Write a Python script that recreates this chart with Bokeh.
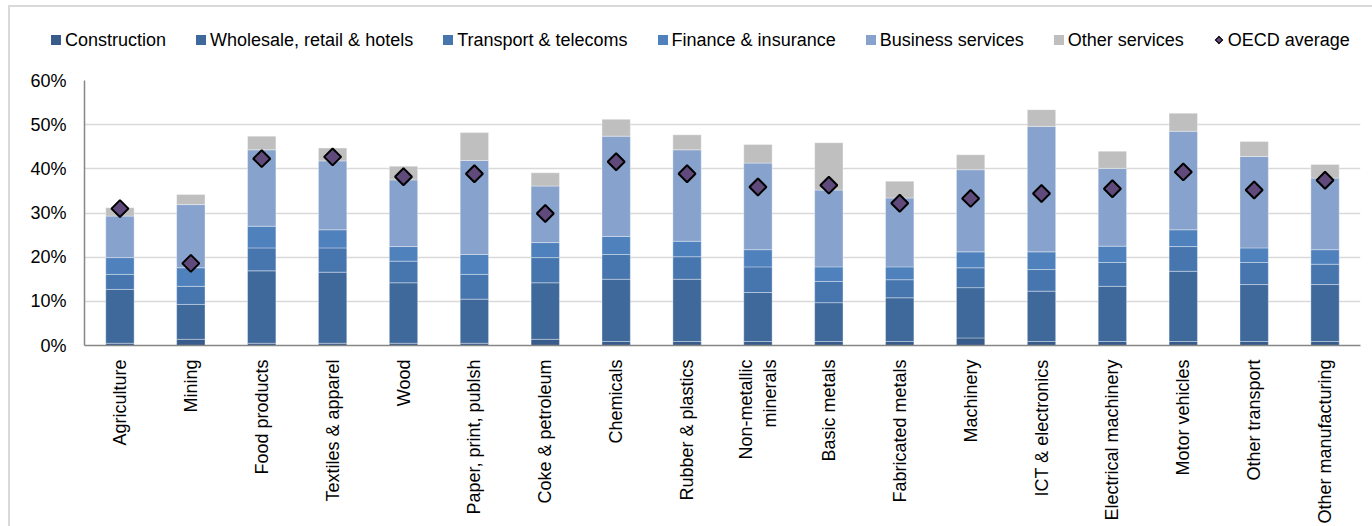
import numpy as np
from bokeh.plotting import figure
from bokeh.layouts import column
from bokeh.models import (ColumnDataSource, Range1d, FixedTicker, NumeralTickFormatter,
                          Div, InlineStyleSheet)
from bokeh.embed import file_html
from bokeh.resources import INLINE

categories = ["Agriculture", "Mining", "Food products", "Textiles & apparel", "Wood",
              "Paper, print, publsh", "Coke & petroleum", "Chemicals", "Rubber & plastics",
              "Non-metallic\nminerals", "Basic metals", "Fabricated metals", "Machinery",
              "ICT & electronics", "Electrical machinery", "Motor vehicles", "Other transport",
              "Other manufacturing"]

# shares in percent
construction = [0.5, 1.4, 0.5, 0.5, 0.5, 0.5, 1.4, 0.9, 0.9, 0.9, 0.9, 0.9, 1.7, 0.9, 0.9, 0.9, 0.9, 0.9]
wholesale    = [12.2, 7.9, 16.4, 16.1, 13.7, 10.0, 12.8, 14.1, 14.1, 11.1, 8.8, 9.9, 11.4, 11.4, 12.5, 15.9, 12.9, 12.9]
transport    = [3.4, 4.1, 5.2, 5.5, 4.9, 5.6, 5.7, 5.6, 5.1, 5.8, 4.8, 4.1, 4.5, 4.9, 5.4, 5.6, 5.0, 4.6]
finance      = [3.8, 4.2, 4.9, 4.1, 3.3, 4.5, 3.4, 4.1, 3.5, 3.9, 3.3, 2.9, 3.6, 4.0, 3.7, 3.8, 3.3, 3.3]
business     = [9.4, 14.3, 17.3, 15.6, 15.1, 21.3, 12.8, 22.7, 20.7, 19.6, 17.4, 15.6, 18.6, 28.4, 17.6, 22.3, 20.7, 16.2]
other        = [1.9, 2.3, 3.1, 2.9, 3.1, 6.3, 3.0, 3.8, 3.4, 4.2, 10.7, 3.8, 3.4, 3.8, 3.9, 4.1, 3.4, 3.1]
oecd_average = [31.0, 18.6, 42.3, 42.7, 38.2, 38.9, 29.9, 41.6, 38.9, 35.9, 36.3, 32.2, 33.3, 34.4, 35.5, 39.3, 35.2, 37.4]

series_names = ["Construction", "Wholesale, retail & hotels", "Transport & telecoms",
                "Finance & insurance", "Business services", "Other services"]
series_keys = ["construction", "wholesale", "transport", "finance", "business", "other"]
series_colors = ["#375b8a", "#3f699b", "#4776ae", "#4f81bd", "#87a2cc", "#bfbfbf"]
oecd_label = "OECD average"
oecd_color = "#604a7b"

x = list(range(len(categories)))
data = dict(x=x)
for k, vals in zip(series_keys, [construction, wholesale, transport, finance, business, other]):
    data[k] = [v / 100 for v in vals]
data["oecd"] = [v / 100 for v in oecd_average]
src = ColumnDataSource(data)

FONT = "Liberation Sans"

# ---------- main chart ----------
p = figure(width=1372, height=456, output_backend="svg", toolbar_location=None,
           x_range=Range1d(-0.5, len(categories) - 0.5), y_range=Range1d(0, 0.6),
           min_border_left=84, min_border_right=12, min_border_top=10, min_border_bottom=180)
p.outline_line_color = None
p.background_fill_color = "white"
p.border_fill_color = "white"

p.vbar_stack(series_keys, x="x", width=0.4, color=series_colors, source=src,
             line_color="white", line_alpha=0.35, line_width=1)
p.scatter(x="x", y="oecd", source=src, marker="square", angle=np.pi / 4, size=12,
          fill_color=oecd_color, line_color="black", line_width=2)

p.yaxis.ticker = FixedTicker(ticks=[0, 0.1, 0.2, 0.3, 0.4, 0.5, 0.6])
p.yaxis.formatter = NumeralTickFormatter(format="0%")
p.yaxis.major_tick_line_color = None
p.yaxis.minor_tick_line_color = None
p.yaxis.axis_line_color = "#868686"
p.yaxis.axis_line_width = 1.5
p.yaxis.major_label_text_font = FONT
p.yaxis.major_label_text_font_size = "18px"
p.yaxis.major_label_text_color = "black"
p.yaxis.major_label_standoff = 12

p.xaxis.ticker = FixedTicker(ticks=x)
p.xaxis.major_label_overrides = {i: c for i, c in enumerate(categories)}
p.xaxis.major_label_orientation = np.pi / 2
p.xaxis.major_tick_line_color = None
p.xaxis.minor_tick_line_color = None
p.xaxis.axis_line_color = "#868686"
p.xaxis.axis_line_width = 1.5
p.xaxis.major_label_text_font = FONT
p.xaxis.major_label_text_font_size = "18px"
p.xaxis.major_label_text_color = "black"
p.xaxis.major_label_standoff = 8

p.xgrid.grid_line_color = None
p.ygrid.grid_line_color = "#d9d9d9"
p.ygrid.grid_line_width = 1.5

# ---------- legend strip ----------
def sq(color):
    return (f'<span style="display:inline-block;width:10px;height:10px;background:{color};'
            f'margin-right:4px;"></span>')

diamond = (f'<span style="display:inline-block;width:6px;height:6px;background:{oecd_color};'
           f'border:1.5px solid black;transform:rotate(45deg);margin:0 6px 0 2px;"></span>')

parts = []
for n, c in zip(series_names, series_colors):
    parts.append(f'<span style="display:inline-flex;align-items:center;white-space:nowrap;">{sq(c)}{n}</span>')
parts.append(f'<span style="display:inline-flex;align-items:center;white-space:nowrap;">{diamond}{oecd_label}</span>')

legend_html = ('<div style="display:flex;align-items:center;gap:30px;padding-left:51px;'
               f'padding-top:40px;height:20px;line-height:20px;font-family:\'{FONT}\';'
               'font-size:18px;color:black;">' + "".join(parts) + '</div>')
legend_div = Div(text=legend_html, width=1372, height=70, margin=0,
                 styles={"background": "white"})

frame_css = InlineStyleSheet(css="""
:host { position: relative; }
:host::after {
  content: ""; position: absolute; left: 8px; top: 5px; right: -20px; bottom: -20px;
  border-left: 2px solid #d9d9d9; border-top: 2px solid #d9d9d9; pointer-events: none;
}
:host::before {
  content: ""; position: absolute; left: 0px; top: 15px; width: 8px; height: 0px;
  border-top: 2px solid #d9d9d9; pointer-events: none;
}
""")

layout = column(legend_div, p, spacing=0, margin=0, stylesheets=[frame_css])
html = file_html(layout, INLINE)
open("out.html", "w").write(html)
